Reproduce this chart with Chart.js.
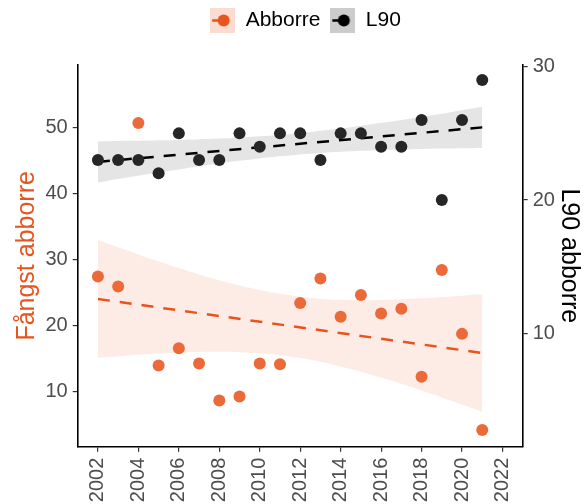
<!DOCTYPE html>
<html><head><meta charset="utf-8">
<script src="https://cdn.jsdelivr.net/npm/chart.js@4.4.0/dist/chart.umd.min.js"></script>
<style>html,body{margin:0;padding:0;background:#fff;}</style>
</head><body>
<canvas id="c" width="587" height="504"></canvas>
<script>
// ---- data ----
const years = [2002,2003,2004,2005,2006,2007,2008,2009,2010,2011,2012,2013,2014,2015,2016,2017,2018,2019,2020,2021];
const abborre = [27.4,25.9,50.7,13.9,16.5,14.2,8.6,9.2,14.2,14.1,23.4,27.1,21.3,24.6,21.8,22.5,12.2,28.4,18.7,4.1];
const l90 = [23,23,23,22,25,23,23,25,24,25,25,23,25,25,24,24,26,20,26,29];
const trendYears = [2002,2021];
const abborreTrend = [24.0,15.8];
const l90Trend = [22.86,25.45];
const abborreUpper = [32.95,31.84,30.76,29.71,28.69,27.73,26.84,26.04,25.35,24.78,24.34,24.05,23.88,23.82,23.85,23.95,24.09,24.28,24.50,24.75];
const abborreLower = [15.05,15.30,15.52,15.71,15.85,15.95,15.98,15.92,15.75,15.46,15.02,14.45,13.76,12.96,12.07,11.11,10.09,9.04,7.96,6.85];
const l90Upper = [24.40,24.43,24.44,24.48,24.51,24.56,24.62,24.68,24.78,24.88,25.02,25.19,25.36,25.57,25.79,26.01,26.25,26.48,26.74,26.99];
const l90Lower = [21.32,21.58,21.82,22.06,22.29,22.53,22.74,22.94,23.12,23.28,23.42,23.53,23.62,23.69,23.76,23.79,23.83,23.86,23.89,23.91];
const xTicks = [2002,2004,2006,2008,2010,2012,2014,2016,2018,2020,2022];
const leftTicks = [10,20,30,40,50];
const rightTicks = [10,20,30];
const seriesNames = ['Abborre','L90'];
const axisTitles = ['Fångst abborre','L90 abborre'];

// ---- styles ----
const FONT = 'Arial, "Liberation Sans", sans-serif';
const ORANGE = '#e8541c';
const ORANGE_PT = '#ec6a3a';
const BLACK_PT = '#262626';
const TICK_COLOR = '#4d4d4d';

const xy = (xs, ys) => xs.map((x, i) => ({x, y: ys[i]}));

function legendIcon(fill, lineColor, dotColor) {
  const c = document.createElement('canvas');
  c.width = 25; c.height = 25;
  const g = c.getContext('2d');
  g.fillStyle = fill; g.fillRect(0, 0, 25, 25);
  g.strokeStyle = lineColor; g.lineWidth = 2.5;
  g.beginPath(); g.moveTo(2, 12.5); g.lineTo(13, 12.5); g.stroke();
  g.fillStyle = dotColor;
  g.beginPath(); g.arc(13.5, 12.5, 6, 0, Math.PI * 2); g.fill();
  return c;
}
const iconA = legendIcon('#fbdcd0', ORANGE, ORANGE);
const iconB = legendIcon('#cccccc', '#000', '#000');

const legendSpacer = {
  id: 'legendSpacer',
  beforeUpdate(chart) {
    const lg = chart.legend;
    if (lg && !lg._patched) {
      const fit = lg.fit;
      lg.fit = function () { fit.call(this); this.height = 65; };
      lg._patched = true;
    }
  },
  afterLayout(chart) {
    if (chart.legend) chart.legend.left += 24;
  }
};

function axisCommon() {
  return {
    grid: {drawOnChartArea: false, drawTicks: true, tickLength: 5, color: '#333', lineWidth: 1.2},
    border: {display: true, color: '#000', width: 1.6},
    ticks: {color: TICK_COLOR, font: {size: 20, family: FONT}, padding: 5, autoSkip: false}
  };
}

const xAxis = axisCommon();
xAxis.type = 'linear';
xAxis.min = 2001; xAxis.max = 2023;
xAxis.ticks.minRotation = 90; xAxis.ticks.maxRotation = 90; xAxis.ticks.padding = 6;
xAxis.ticks.callback = v => String(v);
xAxis.afterBuildTicks = s => { s.ticks = xTicks.map(v => ({value: v})); };
xAxis.afterFit = s => { s.height = 57.3; };

const yAxis = axisCommon();
yAxis.position = 'left';
yAxis.min = 1.57; yAxis.max = 59.52;
yAxis.afterBuildTicks = s => { s.ticks = leftTicks.map(v => ({value: v})); };
yAxis.afterFit = s => { s.width = 77.7; };
yAxis.title = {display: true, text: axisTitles[0], color: ORANGE, font: {size: 25, family: FONT}, padding: {top: 12, bottom: 0}};

const y2Axis = axisCommon();
y2Axis.position = 'right';
y2Axis.min = 1.49; y2Axis.max = 30.13;
y2Axis.afterBuildTicks = s => { s.ticks = rightTicks.map(v => ({value: v})); };
y2Axis.afterFit = s => { s.width = 64.3; };
y2Axis.title = {display: true, text: axisTitles[1], color: '#000', font: {size: 25, family: FONT}, padding: {top: 3.5, bottom: 0}};

new Chart(document.getElementById('c'), {
  type: 'line',
  data: {
    datasets: [
      {data: xy(years, abborreUpper), yAxisID: 'y', fill: '+1', backgroundColor: 'rgba(238,106,58,0.13)', borderWidth: 0, pointRadius: 0, tension: 0.3, order: 3},
      {data: xy(years, abborreLower), yAxisID: 'y', fill: false, borderWidth: 0, pointRadius: 0, tension: 0.3, order: 3},
      {data: xy(years, l90Upper), yAxisID: 'y2', fill: '+1', backgroundColor: 'rgba(0,0,0,0.10)', borderWidth: 0, pointRadius: 0, tension: 0.3, order: 3},
      {data: xy(years, l90Lower), yAxisID: 'y2', fill: false, borderWidth: 0, pointRadius: 0, tension: 0.3, order: 3},
      {data: xy(trendYears, abborreTrend), yAxisID: 'y', borderColor: ORANGE, borderWidth: 2.5, borderDash: [12, 10], pointRadius: 0, fill: false, order: 2},
      {data: xy(trendYears, l90Trend), yAxisID: 'y2', borderColor: '#000', borderWidth: 2.5, borderDash: [12, 10], pointRadius: 0, fill: false, order: 2},
      {label: seriesNames[0], data: xy(years, abborre), yAxisID: 'y', showLine: false, pointRadius: 6, pointBackgroundColor: ORANGE_PT, pointBorderWidth: 0, fill: false, order: 1},
      {label: seriesNames[1], data: xy(years, l90), yAxisID: 'y2', showLine: false, pointRadius: 6, pointBackgroundColor: BLACK_PT, pointBorderWidth: 0, fill: false, order: 0}
    ]
  },
  options: {
    responsive: false,
    animation: false,
    devicePixelRatio: 1,
    layout: {padding: 0},
    plugins: {
      tooltip: {enabled: false},
      legend: {
        display: true,
        position: 'top',
        labels: {
          usePointStyle: true,
          pointStyleWidth: 25,
          padding: 10,
          color: '#000',
          font: {size: 21, family: FONT},
          generateLabels: () => [
            {text: seriesNames[0], pointStyle: iconA, fillStyle: 'rgba(0,0,0,0)', strokeStyle: 'rgba(0,0,0,0)', lineWidth: 0, hidden: false, datasetIndex: 6, fontColor: '#000'},
            {text: seriesNames[1], pointStyle: iconB, fillStyle: 'rgba(0,0,0,0)', strokeStyle: 'rgba(0,0,0,0)', lineWidth: 0, hidden: false, datasetIndex: 7, fontColor: '#000'}
          ]
        }
      }
    },
    scales: {x: xAxis, y: yAxis, y2: y2Axis}
  },
  plugins: [legendSpacer]
});
</script>
</body></html>
